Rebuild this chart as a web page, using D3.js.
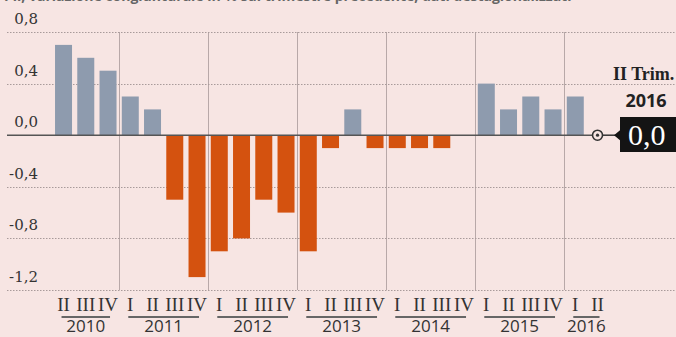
<!DOCTYPE html>
<html><head><meta charset="utf-8">
<script src="https://cdn.jsdelivr.net/npm/d3@7/dist/d3.min.js"></script>
<style>
html,body{margin:0;padding:0;background:#f7e5e3;}
svg{display:block;}
</style></head>
<body>
<svg id="chart" width="676" height="337"></svg>
<script>
// ---- data ----
const quarterLabels = ["II","III","IV","I","II","III","IV","I","II","III","IV","I","II","III","IV","I","II","III","IV","I","II","III","IV","I","II"];
const yearOf = ["2010","2010","2010","2011","2011","2011","2011","2012","2012","2012","2012","2013","2013","2013","2013","2014","2014","2014","2014","2015","2015","2015","2015","2016","2016"];
const values = [0.7,0.6,0.5,0.3,0.2,-0.5,-1.1,-0.9,-0.8,-0.5,-0.6,-0.9,-0.1,0.2,-0.1,-0.1,-0.1,-0.1,0.0,0.4,0.2,0.3,0.2,0.3,0.0];
const years = ["2010","2011","2012","2013","2014","2015","2016"];
const yTicks = [0.8,0.4,0,-0.4,-0.8,-1.2];
const calloutPeriod = "II Trim.";
const calloutYear = "2016";
const calloutValue = 0.0;
const subtitle = "Pil, variazione congiunturale in % sul trimestre precedente, dati destagionalizzati";

// ---- layout ----
const svg = d3.select("#chart");
const keys = values.map((v,i)=> yearOf[i] + "-" + quarterLabels[i] + "-" + i);
const x = d3.scaleBand().domain(keys).range([52.4, 608.65]).paddingInner(0.236).paddingOuter(0.118);
const y = d3.scaleLinear().domain([-1.2, 0.8]).range([290, 32]);
const loc = d3.formatLocale({decimal:",", thousands:".", grouping:[3], currency:["","€"], minus:"-"});
const fmt = loc.format(".1f");

// cut-off subtitle (only its lowest pixels are visible, as in the source)
svg.append("text").attr("x", 4).attr("y", 0.5)
  .attr("font-family","Open Sans, sans-serif").attr("font-weight","bold").attr("font-size",14)
  .attr("fill","#666").text(subtitle);

// year separators
const firstIdx = years.map(yr => yearOf.indexOf(yr));
const lastIdx = years.map(yr => yearOf.lastIndexOf(yr));
const gap = x.step() - x.bandwidth();
svg.append("g").selectAll("line").data(firstIdx.slice(1)).join("line")
  .attr("x1", i => Math.round(x(keys[i]) - gap/2) + 0.5)
  .attr("x2", i => Math.round(x(keys[i]) - gap/2) + 0.5)
  .attr("y1", y(0.8)).attr("y2", y(-1.2))
  .attr("stroke","#b8a8a8").attr("stroke-width",1);

// gridlines
svg.append("g").selectAll("line").data(yTicks.filter(t=>t!==0)).join("line")
  .attr("x1", 7).attr("x2", 676)
  .attr("y1", d=>Math.round(y(d))+0.5).attr("y2", d=>Math.round(y(d))+0.5)
  .attr("stroke","#a89a9a").attr("stroke-width",1).attr("stroke-dasharray","1.5,1.5");

// y labels
svg.append("g").selectAll("text").data(yTicks).join("text")
  .attr("x", 38).attr("y", d=>y(d)-8)
  .attr("text-anchor","end")
  .attr("font-family","DejaVu Serif, serif").attr("font-size",15)
  .attr("fill","#333").text(d=>fmt(d));

// bars
svg.append("g").selectAll("rect").data(values).join("rect")
  .attr("x", (d,i)=>x(keys[i]))
  .attr("width", x.bandwidth())
  .attr("y", d=>y(Math.max(0,d)))
  .attr("height", d=>Math.abs(y(d)-y(0)))
  .attr("fill", d=> d>=0 ? "#8e9bae" : "#d4520f");

// zero line
const lastKey = keys[keys.length-1];
const markerX = x(lastKey) + x.bandwidth()/2;
svg.append("line").attr("x1",7).attr("x2",markerX).attr("y1",y(0)).attr("y2",y(0))
  .attr("stroke","#555").attr("stroke-width",1.6);

// quarter labels
svg.append("g").selectAll("text").data(quarterLabels).join("text")
  .attr("x",(d,i)=>x(keys[i])+x.bandwidth()/2).attr("y",311)
  .attr("text-anchor","middle")
  .attr("font-family","Liberation Serif, serif").attr("font-size",19)
  .attr("fill","#333").text(d=>d);

// year underline + labels
years.forEach((yr,k)=>{
  const a = x(keys[firstIdx[k]]) + x.bandwidth()/2;
  const b = x(keys[lastIdx[k]]) + x.bandwidth()/2;
  svg.append("line").attr("x1",a-2).attr("x2",b+2).attr("y1",317).attr("y2",317)
    .attr("stroke","#666").attr("stroke-width",2);
  svg.append("text").attr("x",(a+b)/2).attr("y",332).attr("text-anchor","middle")
    .attr("font-family","Open Sans, sans-serif").attr("font-size",17)
    .attr("fill","#333").text(yr);
});

// callout
const my = y(calloutValue);
svg.append("line").attr("x1",markerX+5).attr("x2",616).attr("y1",my).attr("y2",my)
  .attr("stroke","#333").attr("stroke-width",1.5);
svg.append("circle").attr("cx",markerX).attr("cy",my).attr("r",5)
  .attr("fill","#f7e5e3").attr("stroke","#333").attr("stroke-width",1.6);
svg.append("circle").attr("cx",markerX).attr("cy",my).attr("r",1.6).attr("fill","#333");
svg.append("path")
  .attr("d",`M614,${my} L620,${my-5} L620,117 L690,117 L690,152 L620,152 L620,${my+5} Z`)
  .attr("fill","#141414");
svg.append("text").attr("x",628).attr("y",145)
  .attr("font-family","Liberation Serif, serif").attr("font-size",30)
  .attr("fill","#fff").text(fmt(calloutValue));
svg.append("text").attr("x",613).attr("y",80)
  .attr("font-family","Liberation Serif, serif").attr("font-weight","bold").attr("font-size",18)
  .attr("fill","#222").text(calloutPeriod);
svg.append("text").attr("x",646).attr("y",107).attr("text-anchor","middle")
  .attr("font-family","Open Sans, sans-serif").attr("font-weight","bold").attr("font-size",18)
  .attr("fill","#222").text(calloutYear);
</script>
</body></html>
